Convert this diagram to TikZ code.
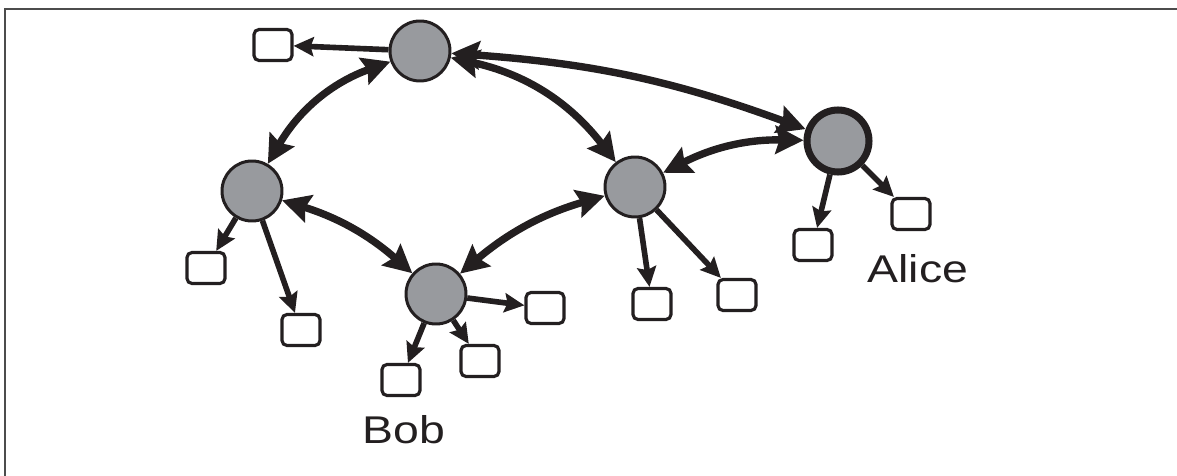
\documentclass[tikz,border=0pt]{standalone}
\usepackage{fontspec}
\newfontfamily\namefont[FakeStretch=1.2]{Liberation Sans}
\usetikzlibrary{arrows.meta}
\definecolor{peerfill}{RGB}{152,154,158}
\definecolor{ink}{RGB}{35,31,32}

\begin{document}
\begin{tikzpicture}[
    peer/.style={circle,draw=ink,fill=peerfill,line width=1.7pt,minimum size=1.2cm,inner sep=0pt},
    leaf/.style={rectangle,rounded corners=0.1cm,draw=ink,line width=1.8pt,minimum width=0.76cm,minimum height=0.62cm,inner sep=0pt},
    link/.style={ink,line width=4.2pt,{Stealth[length=0.56cm,width=0.56cm,inset=0.08cm]}-{Stealth[length=0.56cm,width=0.56cm,inset=0.08cm]}},
    feed/.style={ink,line width=3.2pt,-{Stealth[length=0.4cm,width=0.38cm,inset=0.06cm]}},
    peerlabel/.style={text=ink,font=\namefont\fontsize{22}{26}\selectfont}
  ]
  \useasboundingbox (0,0) rectangle (23.54,9.52);
  \draw[gray!60!black,line width=1.5pt] (0.10,0) -- (0.10,9.34) -- (23.54,9.34);

  % peers
  \node[peer] (top) at (8.40, 8.50) {};
  \node[peer] (left) at (5.04, 5.70) {};
  \node[peer] (bob) at (8.72, 3.64) {};
  \node[peer] (mid) at (12.70, 5.78) {};
  \node[peer,line width=4pt,minimum size=1.24cm] (alice) at (16.76, 6.70) {};

  % files
  \node[leaf] (f1) at (5.46, 8.62) {};
  \node[leaf] (f2) at (4.12, 4.16) {};
  \node[leaf] (f3) at (6.02, 2.92) {};
  \node[leaf] (f4) at (8.02, 1.92) {};
  \node[leaf] (f5) at (9.60, 2.30) {};
  \node[leaf] (f6) at (10.90, 3.36) {};
  \node[leaf] (f7) at (13.04, 3.44) {};
  \node[leaf] (f8) at (14.74, 3.62) {};
  \node[leaf] (f9) at (16.26, 4.62) {};
  \node[leaf] (f10) at (18.22, 5.24) {};

  \node[peerlabel] (alicename) at (18.36, 4.14) {Alice};
  \node[peerlabel] (bobname) at (8.08, 0.92) {Bob};

  % links between peers
  \draw[link] (top) to[bend right=20] (left);
  \draw[link] (top) to[bend left=20] (mid);
  \draw[link] (top) to[bend left=8] (alice);
  \draw[link] (left) to[bend left=12] (bob);
  \draw[link] (bob) to[bend left=12] (mid);
  \draw[link] (mid) to[bend left=14] (alice);

  % peers to files
  \draw[feed] (top) -- (f1);
  \draw[feed] (left) -- (f2);
  \draw[feed] (left) -- (f3);
  \draw[feed] (bob) -- (f4);
  \draw[feed] (bob) -- (f5);
  \draw[feed] (bob) -- (f6);
  \draw[feed] (mid) -- (f7);
  \draw[feed] (mid) -- (f8);
  \draw[feed] (alice) -- (f9);
  \draw[feed] (alice) -- (f10);
\end{tikzpicture}
\end{document}
